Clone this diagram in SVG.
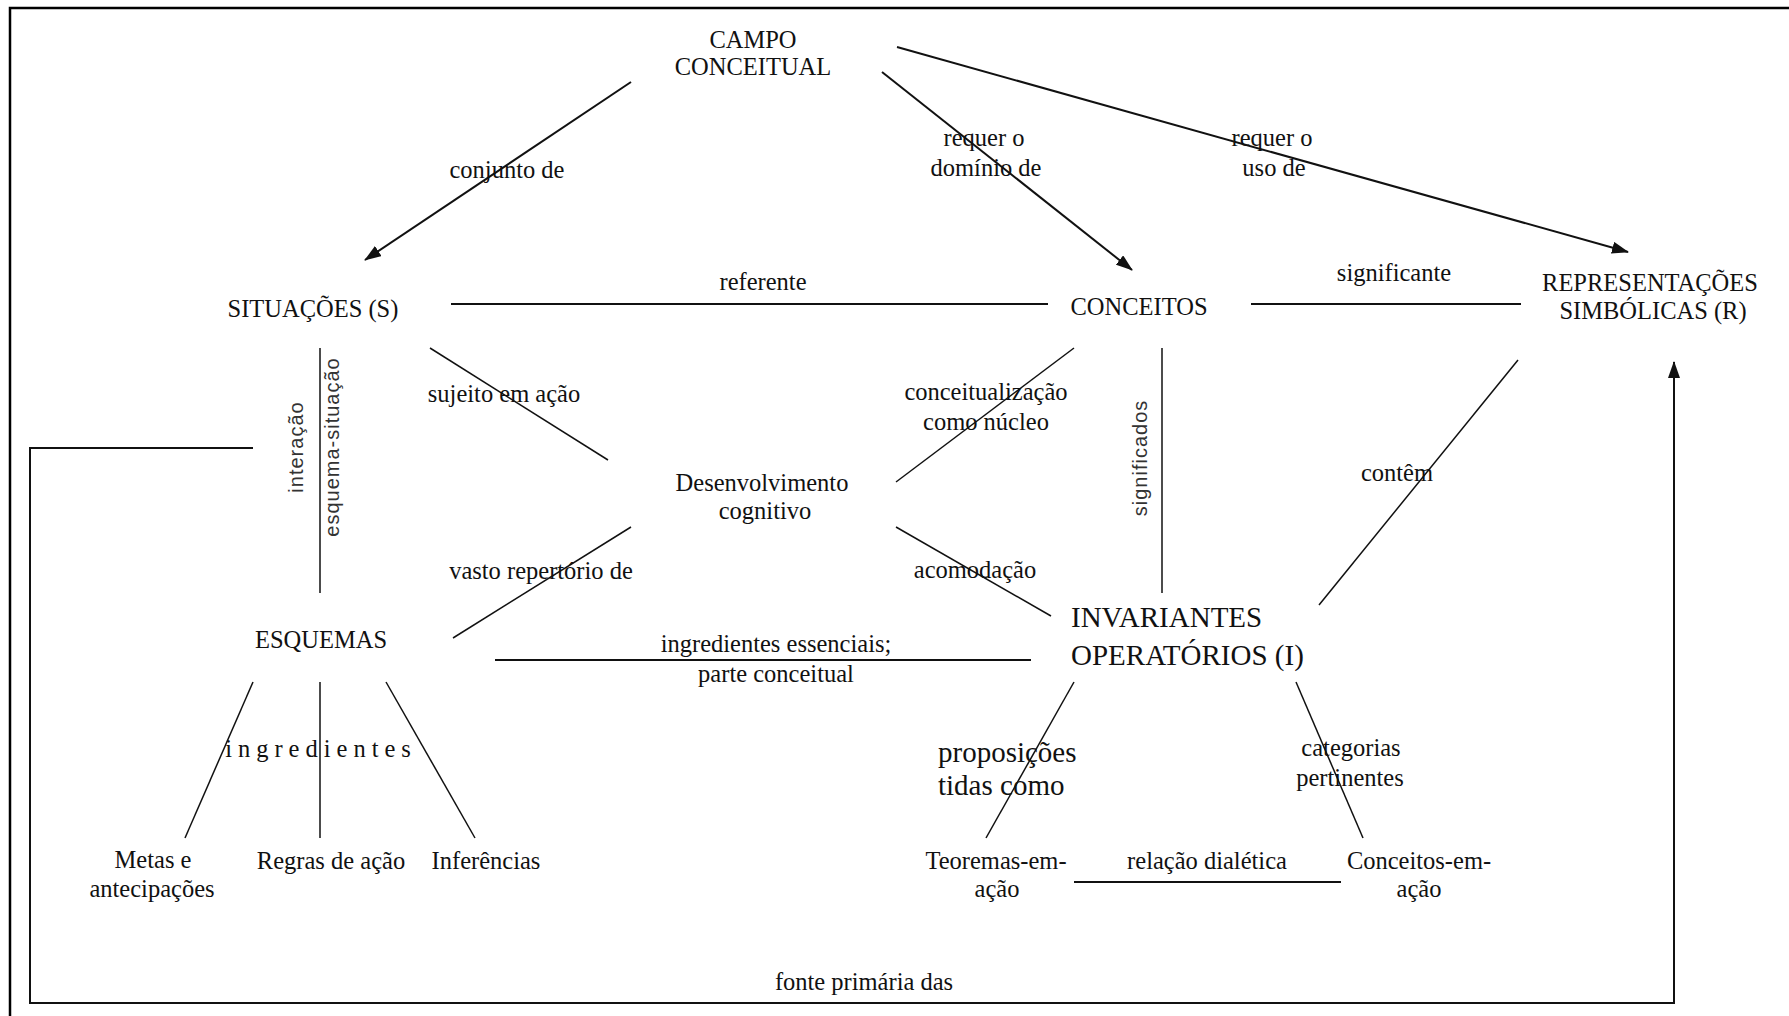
<svg xmlns="http://www.w3.org/2000/svg" width="1789" height="1016" viewBox="0 0 1789 1016">
  <defs>
    <marker id="arrow" markerWidth="17" markerHeight="12" refX="16" refY="6" orient="auto" markerUnits="userSpaceOnUse">
      <path d="M0,0 L17,6 L0,12 Z" fill="#111"/>
    </marker>
    <style>
      text { font-family: "Liberation Serif", "Times New Roman", serif; font-size: 24.5px; fill: #111; }
      .mid { text-anchor: middle; }
      .big { font-size: 29px; }
      .vert { font-family: "Liberation Sans", Arial, sans-serif; font-size: 20px; fill: #333; text-anchor: middle; letter-spacing: 1px; }
      .spaced { letter-spacing: 6px; }
      .ln { stroke: #111; stroke-width: 1.5; fill: none; }
      .ln2 { stroke: #111; stroke-width: 2; fill: none; }
      .frame { stroke: #000; stroke-width: 2.5; fill: none; }
    </style>
  </defs>

  <rect width="1789" height="1016" fill="#fff"/>

  <!-- outer page frame (right and bottom edges fall outside the sheet) -->
  <path class="frame" d="M10,1016 V8 H1789"/>

  <g id="connectors">
    <!-- arrows leaving CAMPO CONCEITUAL -->
    <line class="ln2" x1="631" y1="82" x2="365" y2="260" marker-end="url(#arrow)"/>
    <line class="ln2" x1="882" y1="72" x2="1132" y2="270" marker-end="url(#arrow)"/>
    <line class="ln2" x1="897" y1="47" x2="1628" y2="252" marker-end="url(#arrow)"/>

    <!-- horizontal row: situações / conceitos / representações -->
    <line class="ln2" x1="451" y1="304" x2="1048" y2="304"/>
    <line class="ln2" x1="1251" y1="304" x2="1521" y2="304"/>

    <!-- situações – esquemas -->
    <line class="ln" x1="320" y1="348" x2="320" y2="593"/>
    <!-- links through desenvolvimento cognitivo -->
    <line class="ln" x1="430" y1="348" x2="608" y2="460"/>
    <line class="ln" x1="631" y1="527" x2="453" y2="638"/>
    <line class="ln" x1="1074" y1="348" x2="896" y2="482"/>
    <line class="ln" x1="896" y1="527" x2="1051" y2="616"/>
    <!-- conceitos – invariantes -->
    <line class="ln" x1="1162" y1="348" x2="1162" y2="593"/>
    <!-- representações – invariantes -->
    <line class="ln" x1="1518" y1="360" x2="1319" y2="605"/>
    <!-- esquemas – invariantes -->
    <line class="ln2" x1="495" y1="660" x2="1031" y2="660"/>

    <!-- ingredientes of esquemas -->
    <line class="ln" x1="253" y1="682" x2="185" y2="838"/>
    <line class="ln" x1="320" y1="682" x2="320" y2="838"/>
    <line class="ln" x1="386" y1="682" x2="475" y2="838"/>

    <!-- invariantes split -->
    <line class="ln" x1="1074" y1="682" x2="986" y2="838"/>
    <line class="ln" x1="1296" y1="682" x2="1363" y2="838"/>
    <line class="ln2" x1="1074" y1="882" x2="1341" y2="882"/>

    <!-- fonte primária das: loop from situações round to representações -->
    <polyline class="ln2" stroke="#333" points="253,448 30,448 30,1003 1674,1003 1674,362" marker-end="url(#arrow)"/>
  </g>

  <g id="campo-conceitual">
    <text class="mid" x="753" y="48">CAMPO</text>
    <text class="mid" x="753" y="75">CONCEITUAL</text>
  </g>

  <g id="situacoes">
    <text class="mid" x="313" y="317">SITUAÇÕES (S)</text>
  </g>

  <g id="conceitos">
    <text class="mid" x="1139" y="315">CONCEITOS</text>
  </g>

  <g id="representacoes">
    <text class="mid" x="1650" y="291">REPRESENTAÇÕES</text>
    <text class="mid" x="1653" y="319">SIMBÓLICAS (R)</text>
  </g>

  <g id="desenvolvimento">
    <text class="mid" x="762" y="491">Desenvolvimento</text>
    <text class="mid" x="765" y="519">cognitivo</text>
  </g>

  <g id="esquemas">
    <text class="mid" x="321" y="648">ESQUEMAS</text>
  </g>

  <g id="invariantes">
    <text class="big" x="1071" y="627">INVARIANTES</text>
    <text class="big" x="1071" y="665">OPERATÓRIOS (I)</text>
  </g>

  <g id="metas">
    <text class="mid" x="153" y="868">Metas e</text>
    <text class="mid" x="152" y="897">antecipações</text>
  </g>

  <g id="regras">
    <text class="mid" x="331" y="869">Regras de ação</text>
  </g>

  <g id="inferencias">
    <text class="mid" x="486" y="869">Inferências</text>
  </g>

  <g id="teoremas">
    <text class="mid" x="996" y="869">Teoremas-em-</text>
    <text class="mid" x="997" y="897">ação</text>
  </g>

  <g id="conceitos-em-acao">
    <text class="mid" x="1419" y="869">Conceitos-em-</text>
    <text class="mid" x="1419" y="897">ação</text>
  </g>

  <g id="labels">
    <text class="mid" x="507" y="178">conjunto de</text>
    <text class="mid" x="984" y="146">requer o</text>
    <text class="mid" x="986" y="176">domínio de</text>
    <text class="mid" x="1272" y="146">requer o</text>
    <text class="mid" x="1274" y="176">uso de</text>
    <text class="mid" x="763" y="290">referente</text>
    <text class="mid" x="1394" y="281">significante</text>
    <text class="mid" x="504" y="402">sujeito em ação</text>
    <text class="vert" transform="translate(303,447) rotate(-90)">interação</text>
    <text class="vert" transform="translate(339,447) rotate(-90)">esquema-situação</text>
    <text class="mid" x="986" y="400">conceitualização</text>
    <text class="mid" x="986" y="430">como núcleo</text>
    <text class="vert" transform="translate(1147,458) rotate(-90)">significados</text>
    <text class="mid" x="1397" y="481">contêm</text>
    <text class="mid" x="541" y="579">vasto repertório de</text>
    <text class="mid" x="975" y="578">acomodação</text>
    <text class="mid" x="776" y="652">ingredientes essenciais;</text>
    <text class="mid" x="776" y="682">parte conceitual</text>
    <text class="mid spaced" x="321" y="757">ingredientes</text>
    <text class="big" x="938" y="762">proposições</text>
    <text class="big" x="938" y="795">tidas como</text>
    <text class="mid" x="1351" y="756">categorias</text>
    <text class="mid" x="1350" y="786">pertinentes</text>
    <text class="mid" x="1207" y="869">relação dialética</text>
    <text class="mid" x="864" y="990">fonte primária das</text>
  </g>
</svg>
